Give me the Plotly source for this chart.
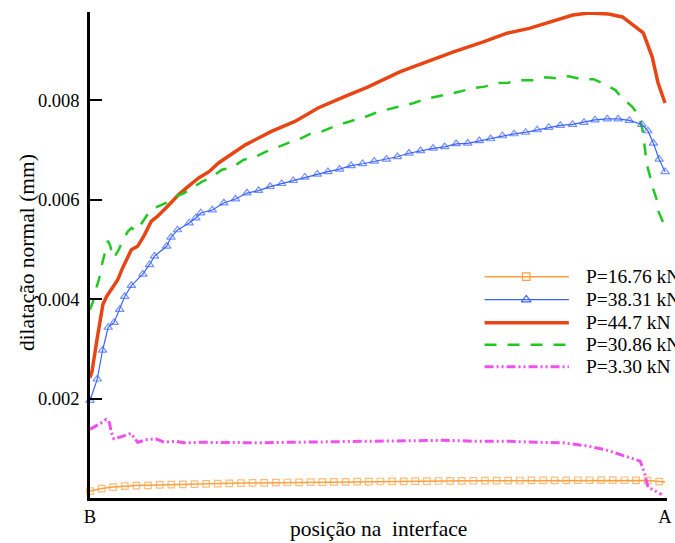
import plotly.graph_objects as go

# ---------------- data (normal dilation, mm x 1e-3, along interface B -> A) ----------------
x_p1676 = [0.0000, 0.0202, 0.0404, 0.0606, 0.0808, 0.1010, 0.1212, 0.1414, 0.1616, 0.1818,
           0.2020, 0.2222, 0.2424, 0.2626, 0.2828, 0.3030, 0.3232, 0.3434, 0.3636, 0.3838,
           0.4040, 0.4242, 0.4444, 0.4646, 0.4848, 0.5051, 0.5253, 0.5455, 0.5657, 0.5859,
           0.6061, 0.6263, 0.6465, 0.6667, 0.6869, 0.7071, 0.7273, 0.7475, 0.7677, 0.7879,
           0.8081, 0.8283, 0.8485, 0.8687, 0.8889, 0.9091, 0.9293, 0.9495, 0.9697, 0.9899, 1.0000]
y_p1676 = [0.140, 0.190, 0.220, 0.240, 0.250, 0.255, 0.262, 0.268, 0.275, 0.280,
           0.285, 0.290, 0.295, 0.300, 0.303, 0.306, 0.309, 0.312, 0.315, 0.318,
           0.321, 0.324, 0.326, 0.328, 0.330, 0.332, 0.334, 0.336, 0.338, 0.340,
           0.342, 0.344, 0.346, 0.347, 0.348, 0.349, 0.350, 0.352, 0.353, 0.354,
           0.355, 0.356, 0.357, 0.357, 0.358, 0.358, 0.357, 0.355, 0.350, 0.330, 0.320]

x_p3831 = [0.0000, 0.0126, 0.0219, 0.0316, 0.0419, 0.0517, 0.0603, 0.0719, 0.0919, 0.1034,
           0.1121, 0.1333, 0.1409, 0.1522, 0.1724, 0.1840, 0.1926, 0.2126, 0.2328, 0.2529,
           0.2729, 0.2931, 0.3133, 0.3333, 0.3534, 0.3736, 0.3953, 0.4138, 0.4340, 0.4540,
           0.4741, 0.4943, 0.5155, 0.5345, 0.5547, 0.5747, 0.5966, 0.6167, 0.6367, 0.6569,
           0.6771, 0.6966, 0.7172, 0.7374, 0.7574, 0.7776, 0.7978, 0.8178, 0.8391, 0.8591,
           0.8781, 0.8995, 0.9184, 0.9379, 0.9598, 0.9702, 0.9798, 0.9897, 1.0000]
y_p3831 = [1.96, 2.39, 2.97, 3.43, 3.53, 3.79, 4.05, 4.27, 4.50, 4.69,
           4.86, 5.06, 5.24, 5.39, 5.53, 5.63, 5.73, 5.79, 5.93, 6.01,
           6.13, 6.18, 6.26, 6.32, 6.38, 6.45, 6.51, 6.56, 6.61, 6.68,
           6.72, 6.77, 6.81, 6.86, 6.93, 6.98, 7.03, 7.06, 7.12, 7.13,
           7.18, 7.22, 7.28, 7.32, 7.35, 7.40, 7.45, 7.49, 7.51, 7.55,
           7.60, 7.62, 7.62, 7.59, 7.51, 7.38, 7.13, 6.81, 6.56]

x_p447 = [0.0000, 0.0034, 0.0121, 0.0224, 0.0288, 0.0397, 0.0483, 0.0569, 0.0719, 0.0828,
          0.0948, 0.1064, 0.1172, 0.1345, 0.1552, 0.1724, 0.1897, 0.2069, 0.2241, 0.2702,
          0.3155, 0.3564, 0.3966, 0.4426, 0.4828, 0.5397, 0.5862, 0.6322, 0.6840, 0.7241,
          0.7638, 0.8103, 0.8397, 0.8672, 0.9017, 0.9259, 0.9483, 0.9621, 0.9776, 0.9879, 1.0000]
y_p447 = [2.42, 2.54, 3.18, 3.89, 4.05, 4.23, 4.39, 4.63, 4.99, 5.06,
          5.29, 5.56, 5.66, 5.86, 6.11, 6.28, 6.44, 6.56, 6.74, 7.10,
          7.37, 7.57, 7.84, 8.07, 8.26, 8.57, 8.77, 8.97, 9.17, 9.34,
          9.44, 9.61, 9.71, 9.75, 9.73, 9.67, 9.47, 9.35, 8.87, 8.34, 7.94]

x_p3086 = [0.0000, 0.0052, 0.0126, 0.0155, 0.0207, 0.0259, 0.0310, 0.0353, 0.0397, 0.0448,
           0.0500, 0.0574, 0.0660, 0.0724, 0.0793, 0.0879, 0.1034, 0.1121, 0.1322, 0.1431,
           0.1638, 0.1776, 0.1948, 0.2103, 0.2293, 0.2466, 0.2672, 0.2845, 0.3052, 0.3241,
           0.3448, 0.3621, 0.3828, 0.4017, 0.4224, 0.4431, 0.4621, 0.4828, 0.5029, 0.5224,
           0.5431, 0.5633, 0.5828, 0.6034, 0.6236, 0.6431, 0.6667, 0.6862, 0.7069, 0.7271,
           0.7500, 0.7702, 0.7931, 0.8103, 0.8328, 0.8534, 0.8759, 0.8909, 0.9138, 0.9253,
           0.9426, 0.9540, 0.9609, 0.9655, 0.9684, 0.9741, 0.9781, 0.9857, 0.9885, 0.9971, 1.0000]
y_p3086 = [3.79, 3.95, 4.29, 4.39, 4.69, 4.95, 5.17, 5.07, 4.83, 4.89,
           4.99, 5.19, 5.36, 5.43, 5.37, 5.49, 5.76, 5.83, 5.93, 6.03,
           6.13, 6.23, 6.36, 6.44, 6.60, 6.64, 6.80, 6.84, 6.96, 7.04,
           7.14, 7.20, 7.32, 7.36, 7.46, 7.54, 7.60, 7.68, 7.77, 7.82,
           7.88, 7.94, 8.02, 8.07, 8.12, 8.17, 8.24, 8.27, 8.34, 8.35,
           8.40, 8.40, 8.46, 8.44, 8.48, 8.42, 8.42, 8.34, 8.20, 8.04,
           7.87, 7.70, 7.40, 6.94, 6.70, 6.46, 6.26, 5.99, 5.76, 5.53, 5.39]

x_p330 = [0.0000, 0.0103, 0.0195, 0.0281, 0.0340, 0.0367, 0.0414, 0.0540, 0.0712, 0.0828,
          0.0971, 0.1143, 0.1288, 0.1488, 0.1633, 0.1919, 0.2414, 0.2931, 0.3500, 0.4138,
          0.5000, 0.6150, 0.6724, 0.7293, 0.7759, 0.8219, 0.8621, 0.8966, 0.9310, 0.9569,
          0.9609, 0.9643, 0.9702, 0.9798, 0.9943]
y_p330 = [1.38, 1.44, 1.51, 1.58, 1.51, 1.34, 1.19, 1.23, 1.30, 1.12,
          1.17, 1.19, 1.12, 1.14, 1.11, 1.12, 1.11, 1.11, 1.12, 1.13,
          1.15, 1.16, 1.14, 1.14, 1.12, 1.11, 1.05, 0.97, 0.84, 0.74,
          0.61, 0.51, 0.22, 0.16, 0.07]

labels = ["P=16.76 kN", "P=38.31 kN", "P=44.7 kN", "P=30.86 kN", "P=3.30 kN"]
y_tick_vals = [0.002, 0.004, 0.006, 0.008]
y_tick_text = ["0.002", "0.004", "0.006", "0.008"]
x_tick_vals = [0, 1]
x_tick_text = ["B", "A"]

SCALE = 1e-3
FONT = "Liberation Serif"

# line styles: colour, width, dash, marker symbol
styles = [
    dict(color="#FFA040", width=1.5, dash="solid", symbol="square-open", msize=6.5),
    dict(color="#3A62FF", width=1.2, dash="solid", symbol="triangle-up-open", msize=7.5),
    dict(color="#E84515", width=3.5, dash="solid", symbol=None, msize=0),
    dict(color="#22C822", width=2.5, dash="12px,11px", symbol=None, msize=0),
    dict(color="#F050F0", width=3.0, dash="9px,3px,2px,3px,2px,3px", symbol=None, msize=0),
]

series = [
    (x_p1676, y_p1676),
    (x_p3831, y_p3831),
    (x_p447, y_p447),
    (x_p3086, y_p3086),
    (x_p330, y_p330),
]

fig = go.Figure()

draw_order = [0, 4, 2, 3, 1]
for i in draw_order:
    xs, ys = series[i]
    st = styles[i]
    yv = [v * SCALE for v in ys]
    if st["symbol"]:
        sizes = [st["msize"]] * len(xs)
        if i == 0:
            sizes[-1] = 0  # line runs on to A past the last node marker
        fig.add_trace(go.Scatter(
            x=xs, y=yv, mode="lines+markers", name=labels[i], showlegend=False,
            line=dict(color=st["color"], width=st["width"], dash=st["dash"]),
            marker=dict(symbol=st["symbol"], size=sizes, color=st["color"],
                        line=dict(width=1.2, color=st["color"])),
            cliponaxis=False,
        ))
    else:
        fig.add_trace(go.Scatter(
            x=xs, y=yv, mode="lines", name=labels[i], showlegend=False,
            line=dict(color=st["color"], width=st["width"], dash=st["dash"]),
            cliponaxis=False,
        ))

# ---------------- hand-drawn legend on an overlay 0..1 axis pair ----------------
leg_x0, leg_x1, leg_xm, leg_tx = 0.6838, 0.8299, 0.7560, 0.8565
leg_rows = [0.4553, 0.4080, 0.3607, 0.3155, 0.2703]
for i, ly in enumerate(leg_rows):
    st = styles[i]
    fig.add_trace(go.Scatter(
        x=[leg_x0, leg_x1], y=[ly, ly], xaxis="x2", yaxis="y2", mode="lines",
        showlegend=False, hoverinfo="skip",
        line=dict(color=st["color"], width=st["width"], dash=st["dash"]),
    ))
    if st["symbol"]:
        fig.add_trace(go.Scatter(
            x=[leg_xm], y=[ly], xaxis="x2", yaxis="y2", mode="markers",
            showlegend=False, hoverinfo="skip",
            marker=dict(symbol=st["symbol"], size=st["msize"] + 1, color=st["color"],
                        line=dict(width=1.2, color=st["color"])),
        ))
    fig.add_annotation(
        x=leg_tx, y=ly, xref="paper", yref="paper", text=labels[i], showarrow=False,
        xanchor="left", yanchor="middle", font=dict(family=FONT, size=19.5, color="black"),
    )

# axis titles
fig.add_annotation(
    x=0.5, y=-0.0647, xref="paper", yref="paper", text="posição na\u00a0 interface",
    showarrow=False, xanchor="center", yanchor="middle",
    font=dict(family=FONT, size=21.5, color="black"),
)
fig.add_annotation(
    x=-0.1100, y=0.505, xref="paper", yref="paper", text="dilatação normal (mm)",
    showarrow=False, textangle=-90, xanchor="center", yanchor="middle",
    font=dict(family=FONT, size=21.5, color="black"),
)

fig.update_layout(
    width=675, height=543,
    margin=dict(l=90, r=3, t=12, b=45),
    paper_bgcolor="white", plot_bgcolor="white",
    font=dict(family=FONT, size=18.5, color="black"),
    showlegend=False,
    xaxis=dict(
        range=[0, 1.0034], tickvals=x_tick_vals, ticktext=x_tick_text,
        showgrid=False, zeroline=False, showline=True, linecolor="black", linewidth=2.5,
        ticks="", ticklabelstandoff=0, ticklabeloverflow="allow",
        tickfont=dict(family=FONT, size=18.5), fixedrange=True,
    ),
    yaxis=dict(
        range=[0, 0.00977], tickvals=y_tick_vals, ticktext=y_tick_text,
        showgrid=False, zeroline=False, showline=True, linecolor="black", linewidth=2.5,
        ticks="inside", ticklen=12, tickwidth=2, tickcolor="black",
        ticklabelstandoff=4, tickfont=dict(family=FONT, size=18.5),
        fixedrange=True,
    ),
    xaxis2=dict(overlaying="x", range=[0, 1], visible=False, fixedrange=True),
    yaxis2=dict(overlaying="y", range=[0, 1], visible=False, fixedrange=True),
)

fig.write_html("out.html")
